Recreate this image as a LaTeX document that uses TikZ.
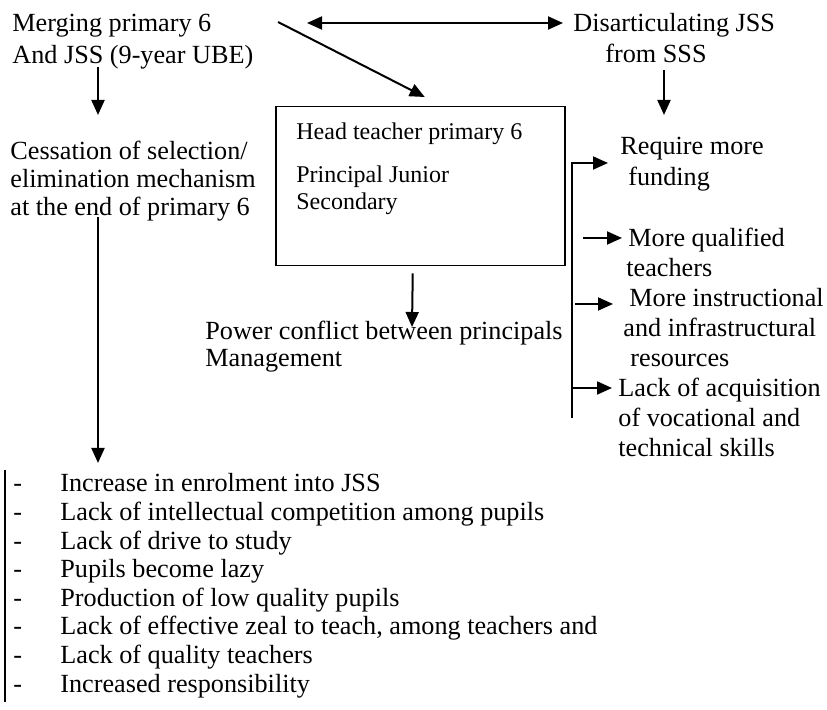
\documentclass[tikz,border=0pt]{standalone}
\usepackage{fontspec}
\setmainfont{Liberation Serif}
\usetikzlibrary{arrows.meta}

\tikzset{
  >={Triangle[length=7.5pt,width=6.5pt]},
  txt/.style={anchor=base west,inner sep=0pt,align=left,font=\fontsize{13.1}{#1}\selectfont},
  txt/.default=15pt,
  boxtxt/.style={anchor=base west,inner sep=0pt,align=left,font=\fontsize{12}{13.5}\selectfont},
  arr/.style={line width=1pt,->},
  dbl/.style={line width=1pt,<->},
}

\begin{document}
\begin{tikzpicture}[x=0.5pt,y=-0.5pt]
\useasboundingbox (0,0) rectangle (827,710);

% top row (nodes sit on the baseline of their last line)
\node[txt=15.75pt] (merge) at (12,63.5) {Merging primary 6\\And JSS (9-year UBE)};
\node[txt=15.5pt] (disart) at (573,63) {Disarticulating JSS\\\hspace*{16pt}from SSS};
\coordinate (dl) at (307,23);
\coordinate (ds) at (278,22);

% middle box
\node[draw,line width=0.75pt,minimum width=144.5pt,minimum height=79.5pt,anchor=north west,inner sep=0pt] (head) at (275,106) {};
\node[boxtxt] (headtxt) at (296,210) {Head teacher primary 6\\[8pt]Principal Junior\\Secondary};
\node[txt=13.5pt] (power) at (205,367) {Power conflict between principals\\Management};

% left column
\node[txt=14pt] (cess) at (10,216) {Cessation of selection/\\elimination mechanism\\at the end of primary 6};

% right column
\node[txt=15.5pt] (fund) at (620,186) {Require more\\\hspace*{4pt}funding};
\node[txt] (qual) at (628,277) {More qualified\\\hspace*{-1pt}teachers};
\node[txt] (instr) at (623,367) {\hspace*{3pt}More instructional\\and infrastructural\\\hspace*{3.5pt}resources};
\node[txt] (voc) at (618,457) {Lack of acquisition\\of vocational and\\technical skills};
\coordinate (brtop) at (572,163);
\coordinate (brbot) at (572,418);

% bottom list
\foreach \txt [count=\i] in {Increase in enrolment into JSS,
    Lack of intellectual competition among pupils,
    Lack of drive to study,
    Pupils become lazy,
    Production of low quality pupils,
    {Lack of effective zeal to teach, among teachers and},
    Lack of quality teachers,
    Increased responsibility}{
  \node[txt] (dash\i) at (13,{492+28.6*(\i-1)}) {-};
  \node[txt] (item\i) at (60,{492+28.6*(\i-1)}) {\txt};
}
\coordinate (lstop) at (5,470);
\coordinate (lsbot) at (5,702);

% connectors
\draw[dbl] (dl) -- ([xshift=-5pt,yshift=20pt]disart.base west);
\draw[arr] (ds) -- ([xshift=2.25pt,yshift=4.5pt]head.north);
\draw[arr] ([xshift=43pt,yshift=-1.75pt]merge.base west) -- ([xshift=44pt,yshift=50.5pt]cess.base west);
\draw[arr] ([xshift=45.5pt,yshift=-3.5pt]disart.base west) -- ([xshift=22pt,yshift=35.5pt]fund.base west);
\draw[arr] ([xshift=-3.75pt,yshift=-3.5pt]head.south) -- ([xshift=103.5pt,yshift=20pt]power.base west);
\draw[arr] ([xshift=44pt,yshift=-0.5pt]cess.base west) -- ([xshift=19pt,yshift=14.5pt]item1.base west);
\draw[arr] (brbot) |- ([xshift=-6pt,yshift=11.5pt]fund.base west);
\draw[arr] ([xshift=-22.5pt,yshift=19.5pt]qual.base west) -- ([xshift=-3pt,yshift=19.5pt]qual.base west);
\draw[arr] ([xshift=-24pt,yshift=31.5pt]instr.base west) -- ([xshift=-5pt,yshift=31.5pt]instr.base west);
\draw[arr] ([yshift=15pt]brbot) -- ([xshift=-3pt,yshift=34.5pt]voc.base west);
\draw[line width=1pt] (lstop) -- (lsbot);
\end{tikzpicture}
\end{document}
